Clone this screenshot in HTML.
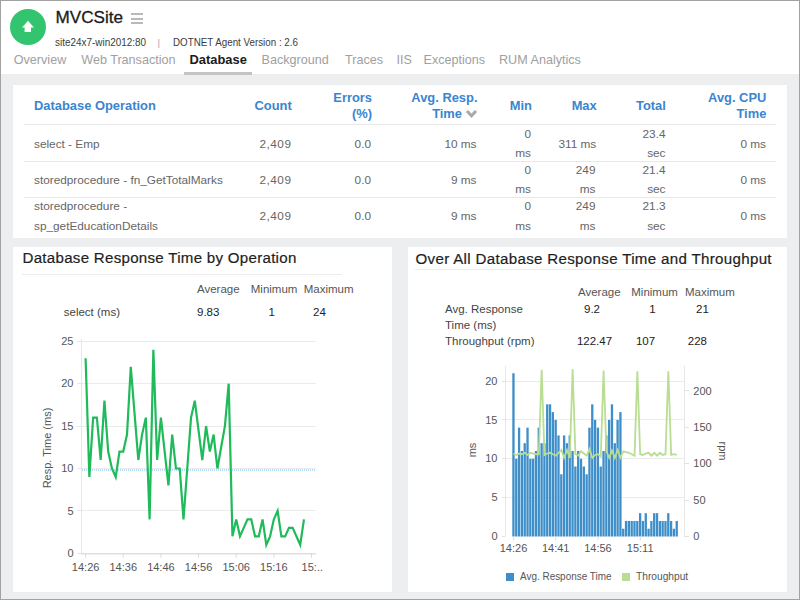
<!DOCTYPE html>
<html><head><meta charset="utf-8"><style>
html,body{margin:0;padding:0;width:800px;height:600px;overflow:hidden;background:#edeef0;}
body{position:relative;font-family:"Liberation Sans", sans-serif;}
.t{position:absolute;white-space:nowrap;}
.r{position:absolute;}
</style></head><body>
<div class="r" style="left:0px;top:0px;width:800px;height:600px;background:#a2a2a2;"></div><div class="r" style="left:1px;top:1px;width:798px;height:598px;background:#edeef0;"></div><div class="r" style="left:1px;top:1px;width:798px;height:73px;background:#ffffff;"></div><svg class="r" style="left:10px;top:9px" width="36" height="36" viewBox="0 0 36 36">
<circle cx="18" cy="18" r="18" fill="#33c46f"/>
<path d="M18 11.8 L23.9 18.4 L21 18.4 L21 23 L14.6 23 L14.6 18.4 L12.1 18.4 Z" fill="#fff"/>
</svg><div class="t" style="top:9.46px;font-size:17.1px;line-height:17.1px;color:#1b1b1b;font-weight:normal;-webkit-text-stroke:0.3px #1b1b1b;left:55.50px;">MVCSite</div><div class="r" style="left:130.5px;top:13.25px;width:12.5px;height:2px;background:#b9b9b9;"></div><div class="r" style="left:130.5px;top:17.75px;width:12.5px;height:2px;background:#b9b9b9;"></div><div class="r" style="left:130.5px;top:22.25px;width:12.5px;height:2px;background:#b9b9b9;"></div><div class="t" style="top:37.48px;font-size:10.5px;line-height:10.5px;color:#3c3c3c;font-weight:normal;transform:scaleX(0.945);transform-origin:0 0;left:55.00px;">site24x7-win2012:80</div><div class="t" style="top:38.07px;font-size:9.8px;line-height:9.8px;color:#aaa;font-weight:normal;left:157.50px;">|</div><div class="t" style="top:37.48px;font-size:10.5px;line-height:10.5px;color:#3c3c3c;font-weight:normal;transform:scaleX(0.932);transform-origin:0 0;left:172.50px;">DOTNET Agent Version : 2.6</div><div class="t" style="top:53.79px;font-size:12.6px;line-height:12.6px;color:#a0a0a0;font-weight:normal;left:13.75px;">Overview</div><div class="t" style="top:53.79px;font-size:12.6px;line-height:12.6px;color:#a0a0a0;font-weight:normal;left:81.25px;">Web Transaction</div><div class="t" style="top:53.53px;font-size:12.9px;line-height:12.9px;color:#1a1a1a;font-weight:bold;left:189.50px;">Database</div><div class="t" style="top:53.79px;font-size:12.6px;line-height:12.6px;color:#a0a0a0;font-weight:normal;left:261.50px;">Background</div><div class="t" style="top:53.79px;font-size:12.6px;line-height:12.6px;color:#a0a0a0;font-weight:normal;left:345.00px;">Traces</div><div class="t" style="top:53.79px;font-size:12.6px;line-height:12.6px;color:#a0a0a0;font-weight:normal;left:396.50px;">IIS</div><div class="t" style="top:53.79px;font-size:12.6px;line-height:12.6px;color:#a0a0a0;font-weight:normal;left:423.50px;">Exceptions</div><div class="t" style="top:53.79px;font-size:12.6px;line-height:12.6px;color:#a0a0a0;font-weight:normal;left:499.00px;">RUM Analytics</div><div class="r" style="left:184px;top:72px;width:68px;height:3px;background:#c4c4c4;"></div><div class="r" style="left:13px;top:85px;width:774px;height:152.5px;background:#fff;"></div><div class="t" style="top:100.03px;font-size:12.9px;line-height:12.9px;color:#3a85cf;font-weight:bold;left:34.00px;">Database Operation</div><div class="t" style="top:100.03px;font-size:12.9px;line-height:12.9px;color:#3a85cf;font-weight:bold;right:508.30px;text-align:right;">Count</div><div class="t" style="top:92.03px;font-size:12.9px;line-height:12.9px;color:#3a85cf;font-weight:bold;right:428.00px;text-align:right;">Errors</div><div class="t" style="top:108.03px;font-size:12.9px;line-height:12.9px;color:#3a85cf;font-weight:bold;right:428.00px;text-align:right;">(%)</div><div class="t" style="top:92.03px;font-size:12.9px;line-height:12.9px;color:#3a85cf;font-weight:bold;right:322.50px;text-align:right;">Avg. Resp.</div><div class="t" style="top:108.03px;font-size:12.9px;line-height:12.9px;color:#3a85cf;font-weight:bold;right:338.00px;text-align:right;">Time</div><svg class="r" style="left:465px;top:108.5px" width="13" height="10" viewBox="0 0 13 10"><path d="M2 2 L6.5 6.8 L11 2" stroke="#a9a9a9" stroke-width="3" fill="none"/></svg><div class="t" style="top:100.03px;font-size:12.9px;line-height:12.9px;color:#3a85cf;font-weight:bold;right:268.00px;text-align:right;">Min</div><div class="t" style="top:100.03px;font-size:12.9px;line-height:12.9px;color:#3a85cf;font-weight:bold;right:203.30px;text-align:right;">Max</div><div class="t" style="top:100.03px;font-size:12.9px;line-height:12.9px;color:#3a85cf;font-weight:bold;right:134.20px;text-align:right;">Total</div><div class="t" style="top:92.03px;font-size:12.9px;line-height:12.9px;color:#3a85cf;font-weight:bold;right:33.70px;text-align:right;">Avg. CPU</div><div class="t" style="top:108.03px;font-size:12.9px;line-height:12.9px;color:#3a85cf;font-weight:bold;right:33.70px;text-align:right;">Time</div><div class="r" style="left:24px;top:124px;width:752px;height:1px;background:#e8e8e8;"></div><div class="r" style="left:24px;top:161px;width:752px;height:1px;background:#e8e8e8;"></div><div class="r" style="left:24px;top:197px;width:752px;height:1px;background:#e8e8e8;"></div><div class="t" style="top:138.97px;font-size:11.8px;line-height:11.8px;color:#666;font-weight:normal;left:34.00px;">select - Emp</div><div class="t" style="top:138.97px;font-size:11.8px;line-height:11.8px;color:#666;font-weight:normal;letter-spacing:0.5px;right:508.50px;text-align:right;">2,409</div><div class="t" style="top:138.97px;font-size:11.8px;line-height:11.8px;color:#666;font-weight:normal;right:429.00px;text-align:right;">0.0</div><div class="t" style="top:138.97px;font-size:11.8px;line-height:11.8px;color:#666;font-weight:normal;right:323.50px;text-align:right;">10 ms</div><div class="t" style="top:128.97px;font-size:11.8px;line-height:11.8px;color:#666;font-weight:normal;right:269.00px;text-align:right;">0</div><div class="t" style="top:147.97px;font-size:11.8px;line-height:11.8px;color:#666;font-weight:normal;right:269.00px;text-align:right;">ms</div><div class="t" style="top:138.97px;font-size:11.8px;line-height:11.8px;color:#666;font-weight:normal;right:203.80px;text-align:right;">311 ms</div><div class="t" style="top:128.97px;font-size:11.8px;line-height:11.8px;color:#666;font-weight:normal;right:134.50px;text-align:right;">23.4</div><div class="t" style="top:147.97px;font-size:11.8px;line-height:11.8px;color:#666;font-weight:normal;right:134.50px;text-align:right;">sec</div><div class="t" style="top:138.97px;font-size:11.8px;line-height:11.8px;color:#666;font-weight:normal;right:34.00px;text-align:right;">0 ms</div><div class="t" style="top:174.97px;font-size:11.8px;line-height:11.8px;color:#666;font-weight:normal;left:34.00px;">storedprocedure - fn_GetTotalMarks</div><div class="t" style="top:174.97px;font-size:11.8px;line-height:11.8px;color:#666;font-weight:normal;letter-spacing:0.5px;right:508.50px;text-align:right;">2,409</div><div class="t" style="top:174.97px;font-size:11.8px;line-height:11.8px;color:#666;font-weight:normal;right:429.00px;text-align:right;">0.0</div><div class="t" style="top:174.97px;font-size:11.8px;line-height:11.8px;color:#666;font-weight:normal;right:323.50px;text-align:right;">9 ms</div><div class="t" style="top:165.47px;font-size:11.8px;line-height:11.8px;color:#666;font-weight:normal;right:269.00px;text-align:right;">0</div><div class="t" style="top:183.97px;font-size:11.8px;line-height:11.8px;color:#666;font-weight:normal;right:269.00px;text-align:right;">ms</div><div class="t" style="top:165.47px;font-size:11.8px;line-height:11.8px;color:#666;font-weight:normal;right:204.50px;text-align:right;">249</div><div class="t" style="top:183.97px;font-size:11.8px;line-height:11.8px;color:#666;font-weight:normal;right:204.50px;text-align:right;">ms</div><div class="t" style="top:165.47px;font-size:11.8px;line-height:11.8px;color:#666;font-weight:normal;right:134.50px;text-align:right;">21.4</div><div class="t" style="top:183.97px;font-size:11.8px;line-height:11.8px;color:#666;font-weight:normal;right:134.50px;text-align:right;">sec</div><div class="t" style="top:174.97px;font-size:11.8px;line-height:11.8px;color:#666;font-weight:normal;right:34.00px;text-align:right;">0 ms</div><div class="t" style="top:200.97px;font-size:11.8px;line-height:11.8px;color:#666;font-weight:normal;left:34.00px;">storedprocedure -</div><div class="t" style="top:221.27px;font-size:11.8px;line-height:11.8px;color:#666;font-weight:normal;left:34.00px;">sp_getEducationDetails</div><div class="t" style="top:210.97px;font-size:11.8px;line-height:11.8px;color:#666;font-weight:normal;letter-spacing:0.5px;right:508.50px;text-align:right;">2,409</div><div class="t" style="top:210.97px;font-size:11.8px;line-height:11.8px;color:#666;font-weight:normal;right:429.00px;text-align:right;">0.0</div><div class="t" style="top:210.97px;font-size:11.8px;line-height:11.8px;color:#666;font-weight:normal;right:323.50px;text-align:right;">9 ms</div><div class="t" style="top:200.97px;font-size:11.8px;line-height:11.8px;color:#666;font-weight:normal;right:269.00px;text-align:right;">0</div><div class="t" style="top:221.27px;font-size:11.8px;line-height:11.8px;color:#666;font-weight:normal;right:269.00px;text-align:right;">ms</div><div class="t" style="top:200.97px;font-size:11.8px;line-height:11.8px;color:#666;font-weight:normal;right:204.50px;text-align:right;">249</div><div class="t" style="top:221.27px;font-size:11.8px;line-height:11.8px;color:#666;font-weight:normal;right:204.50px;text-align:right;">ms</div><div class="t" style="top:200.97px;font-size:11.8px;line-height:11.8px;color:#666;font-weight:normal;right:134.50px;text-align:right;">21.3</div><div class="t" style="top:221.27px;font-size:11.8px;line-height:11.8px;color:#666;font-weight:normal;right:134.50px;text-align:right;">sec</div><div class="t" style="top:210.97px;font-size:11.8px;line-height:11.8px;color:#666;font-weight:normal;right:34.00px;text-align:right;">0 ms</div><div class="r" style="left:13px;top:247px;width:379px;height:345px;background:#fff;"></div><div class="t" style="top:250.47px;font-size:15.1px;line-height:15.1px;color:#1e1e1e;font-weight:normal;letter-spacing:0.28px;-webkit-text-stroke:0.2px #1e1e1e;left:22.50px;">Database Response Time by Operation</div><div class="r" style="left:22px;top:273.5px;width:320px;height:1px;background:#ececec;"></div><div class="t" style="top:284.23px;font-size:11.5px;line-height:11.5px;color:#555;font-weight:normal;left:197.00px;">Average</div><div class="t" style="top:284.23px;font-size:11.5px;line-height:11.5px;color:#555;font-weight:normal;left:250.75px;">Minimum</div><div class="t" style="top:284.23px;font-size:11.5px;line-height:11.5px;color:#555;font-weight:normal;left:303.75px;">Maximum</div><div class="t" style="top:307.23px;font-size:11.5px;line-height:11.5px;color:#444;font-weight:normal;left:63.75px;">select (ms)</div><div class="t" style="top:307.23px;font-size:11.5px;line-height:11.5px;color:#222;font-weight:normal;left:197.00px;">9.83</div><div class="t" style="top:307.23px;font-size:11.5px;line-height:11.5px;color:#222;font-weight:normal;left:121.60px;width:300px;text-align:center;">1</div><div class="t" style="top:307.23px;font-size:11.5px;line-height:11.5px;color:#222;font-weight:normal;left:169.50px;width:300px;text-align:center;">24</div><svg class="r" style="left:0;top:0" width="800" height="600"><line x1="77.5" y1="553.5" x2="81" y2="553.5" stroke="#e4e4e4" stroke-width="1"/><line x1="81" y1="510.5" x2="316" y2="510.5" stroke="#ebebeb" stroke-width="1"/><line x1="77.5" y1="510.5" x2="81" y2="510.5" stroke="#e4e4e4" stroke-width="1"/><line x1="81" y1="468.5" x2="316" y2="468.5" stroke="#ebebeb" stroke-width="1"/><line x1="77.5" y1="468.5" x2="81" y2="468.5" stroke="#e4e4e4" stroke-width="1"/><line x1="81" y1="426.5" x2="316" y2="426.5" stroke="#ebebeb" stroke-width="1"/><line x1="77.5" y1="426.5" x2="81" y2="426.5" stroke="#e4e4e4" stroke-width="1"/><line x1="81" y1="383.5" x2="316" y2="383.5" stroke="#ebebeb" stroke-width="1"/><line x1="77.5" y1="383.5" x2="81" y2="383.5" stroke="#e4e4e4" stroke-width="1"/><line x1="81" y1="341.5" x2="316" y2="341.5" stroke="#ebebeb" stroke-width="1"/><line x1="77.5" y1="341.5" x2="81" y2="341.5" stroke="#e4e4e4" stroke-width="1"/><line x1="81.5" y1="339" x2="81.5" y2="553.3" stroke="#e6e6e6" stroke-width="1"/><line x1="81" y1="553.8" x2="316" y2="553.8" stroke="#e0e0e0" stroke-width="1.6"/><line x1="85.6" y1="553.3" x2="85.6" y2="557.8" stroke="#dcdcdc" stroke-width="1"/><line x1="123.2" y1="553.3" x2="123.2" y2="557.8" stroke="#dcdcdc" stroke-width="1"/><line x1="160.9" y1="553.3" x2="160.9" y2="557.8" stroke="#dcdcdc" stroke-width="1"/><line x1="198.5" y1="553.3" x2="198.5" y2="557.8" stroke="#dcdcdc" stroke-width="1"/><line x1="236.2" y1="553.3" x2="236.2" y2="557.8" stroke="#dcdcdc" stroke-width="1"/><line x1="273.9" y1="553.3" x2="273.9" y2="557.8" stroke="#dcdcdc" stroke-width="1"/><line x1="311.5" y1="553.3" x2="311.5" y2="557.8" stroke="#dcdcdc" stroke-width="1"/><line x1="82" y1="470" x2="316" y2="470" stroke="#b3ddf6" stroke-width="2" stroke-dasharray="1,1"/><polyline points="85.60,358.26 89.36,476.98 93.13,417.62 96.89,417.62 100.66,460.02 104.42,400.66 108.19,451.54 111.95,468.50 115.72,476.98 119.48,451.54 123.25,451.54 127.01,434.58 130.78,366.74 134.54,413.38 138.31,460.02 142.07,434.58 145.84,417.62 149.60,519.38 153.37,349.78 157.13,460.02 160.90,417.62 164.66,451.54 168.43,485.46 172.19,434.58 175.96,468.50 179.72,468.50 183.49,519.38 187.25,468.50 191.02,417.62 194.78,400.66 198.55,430.34 202.31,460.02 206.08,426.10 209.84,451.54 213.61,434.58 217.38,468.50 221.14,447.30 224.91,426.10 228.67,383.70 232.44,536.34 236.20,519.38 239.97,536.34 243.73,527.86 247.50,519.38 251.26,519.38 255.03,536.34 258.79,536.34 262.56,519.38 266.32,544.82 270.09,536.34 273.85,519.38 277.62,510.90 281.38,536.34 285.14,536.34 288.91,527.86 292.68,527.86 296.44,536.34 300.21,544.82 303.97,519.38" fill="none" stroke="#1fba5a" stroke-width="2.2" stroke-linejoin="miter"/></svg><div class="t" style="top:547.95px;font-size:11px;line-height:11px;color:#555;font-weight:normal;right:726.50px;text-align:right;">0</div><div class="t" style="top:505.55px;font-size:11px;line-height:11px;color:#555;font-weight:normal;right:726.50px;text-align:right;">5</div><div class="t" style="top:463.15px;font-size:11px;line-height:11px;color:#555;font-weight:normal;right:726.50px;text-align:right;">10</div><div class="t" style="top:420.75px;font-size:11px;line-height:11px;color:#555;font-weight:normal;right:726.50px;text-align:right;">15</div><div class="t" style="top:378.35px;font-size:11px;line-height:11px;color:#555;font-weight:normal;right:726.50px;text-align:right;">20</div><div class="t" style="top:335.95px;font-size:11px;line-height:11px;color:#555;font-weight:normal;right:726.50px;text-align:right;">25</div><div class="t" style="top:561.95px;font-size:11px;line-height:11px;color:#555;font-weight:normal;left:-64.40px;width:300px;text-align:center;">14:26</div><div class="t" style="top:561.95px;font-size:11px;line-height:11px;color:#555;font-weight:normal;left:-26.75px;width:300px;text-align:center;">14:36</div><div class="t" style="top:561.95px;font-size:11px;line-height:11px;color:#555;font-weight:normal;left:10.90px;width:300px;text-align:center;">14:46</div><div class="t" style="top:561.95px;font-size:11px;line-height:11px;color:#555;font-weight:normal;left:48.55px;width:300px;text-align:center;">14:56</div><div class="t" style="top:561.95px;font-size:11px;line-height:11px;color:#555;font-weight:normal;left:86.20px;width:300px;text-align:center;">15:06</div><div class="t" style="top:561.95px;font-size:11px;line-height:11px;color:#555;font-weight:normal;left:123.85px;width:300px;text-align:center;">15:16</div><div class="t" style="top:561.95px;font-size:11px;line-height:11px;color:#555;font-weight:normal;left:301.60px;">15:..</div><div class="t" style="left:-13.5px;top:440px;width:120px;height:16px;line-height:16px;font-size:11px;color:#555;text-align:center;transform:rotate(-90deg);">Resp. Time (ms)</div><div class="r" style="left:408px;top:247px;width:379px;height:345px;background:#fff;"></div><div class="t" style="top:250.97px;font-size:15.1px;line-height:15.1px;color:#1e1e1e;font-weight:normal;letter-spacing:0.33px;-webkit-text-stroke:0.2px #1e1e1e;left:415.50px;">Over All Database Response Time and Throughput</div><div class="r" style="left:415px;top:269px;width:310px;height:1px;background:#ececec;"></div><div class="t" style="top:287.23px;font-size:11.5px;line-height:11.5px;color:#555;font-weight:normal;left:578.00px;">Average</div><div class="t" style="top:287.23px;font-size:11.5px;line-height:11.5px;color:#555;font-weight:normal;left:631.25px;">Minimum</div><div class="t" style="top:287.23px;font-size:11.5px;line-height:11.5px;color:#555;font-weight:normal;left:685.00px;">Maximum</div><div class="t" style="top:303.73px;font-size:11.5px;line-height:11.5px;color:#444;font-weight:normal;left:445.00px;">Avg. Response</div><div class="t" style="top:319.98px;font-size:11.5px;line-height:11.5px;color:#444;font-weight:normal;left:445.00px;">Time (ms)</div><div class="t" style="top:335.73px;font-size:11.5px;line-height:11.5px;color:#444;font-weight:normal;left:445.00px;">Throughput (rpm)</div><div class="t" style="top:303.73px;font-size:11.5px;line-height:11.5px;color:#222;font-weight:normal;left:442.00px;width:300px;text-align:center;">9.2</div><div class="t" style="top:303.73px;font-size:11.5px;line-height:11.5px;color:#222;font-weight:normal;left:502.50px;width:300px;text-align:center;">1</div><div class="t" style="top:303.73px;font-size:11.5px;line-height:11.5px;color:#222;font-weight:normal;left:552.40px;width:300px;text-align:center;">21</div><div class="t" style="top:335.73px;font-size:11.5px;line-height:11.5px;color:#222;font-weight:normal;left:444.50px;width:300px;text-align:center;">122.47</div><div class="t" style="top:335.73px;font-size:11.5px;line-height:11.5px;color:#222;font-weight:normal;left:495.50px;width:300px;text-align:center;">107</div><div class="t" style="top:335.73px;font-size:11.5px;line-height:11.5px;color:#222;font-weight:normal;left:547.40px;width:300px;text-align:center;">228</div><svg class="r" style="left:0;top:0" width="800" height="600"><line x1="502" y1="536.5" x2="505" y2="536.5" stroke="#e2e2e2" stroke-width="1"/><line x1="505" y1="497.5" x2="685" y2="497.5" stroke="#ebebeb" stroke-width="1"/><line x1="502" y1="497.5" x2="505" y2="497.5" stroke="#e2e2e2" stroke-width="1"/><line x1="505" y1="458.5" x2="685" y2="458.5" stroke="#ebebeb" stroke-width="1"/><line x1="502" y1="458.5" x2="505" y2="458.5" stroke="#e2e2e2" stroke-width="1"/><line x1="505" y1="419.5" x2="685" y2="419.5" stroke="#ebebeb" stroke-width="1"/><line x1="502" y1="419.5" x2="505" y2="419.5" stroke="#e2e2e2" stroke-width="1"/><line x1="505" y1="381.5" x2="685" y2="381.5" stroke="#ebebeb" stroke-width="1"/><line x1="502" y1="381.5" x2="505" y2="381.5" stroke="#e2e2e2" stroke-width="1"/><line x1="505.5" y1="366" x2="505.5" y2="536.5" stroke="#e6e6e6" stroke-width="1"/><line x1="684.5" y1="366" x2="684.5" y2="536.5" stroke="#e6e6e6" stroke-width="1"/><line x1="684.5" y1="536.5" x2="689" y2="536.5" stroke="#e2e2e2" stroke-width="1"/><line x1="684.5" y1="500.5" x2="689" y2="500.5" stroke="#e2e2e2" stroke-width="1"/><line x1="684.5" y1="463.5" x2="689" y2="463.5" stroke="#e2e2e2" stroke-width="1"/><line x1="684.5" y1="427.5" x2="689" y2="427.5" stroke="#e2e2e2" stroke-width="1"/><line x1="684.5" y1="390.5" x2="689" y2="390.5" stroke="#e2e2e2" stroke-width="1"/><rect x="512.30" y="373.23" width="2.3" height="163.28" fill="#3d8ec9"/><rect x="515.12" y="458.75" width="2.3" height="77.75" fill="#3d8ec9"/><rect x="517.93" y="427.65" width="2.3" height="108.85" fill="#3d8ec9"/><rect x="520.75" y="450.98" width="2.3" height="85.53" fill="#3d8ec9"/><rect x="523.56" y="443.20" width="2.3" height="93.30" fill="#3d8ec9"/><rect x="526.38" y="427.65" width="2.3" height="108.85" fill="#3d8ec9"/><rect x="529.19" y="458.75" width="2.3" height="77.75" fill="#3d8ec9"/><rect x="532.00" y="458.75" width="2.3" height="77.75" fill="#3d8ec9"/><rect x="534.82" y="450.98" width="2.3" height="85.53" fill="#3d8ec9"/><rect x="537.63" y="427.65" width="2.3" height="108.85" fill="#3d8ec9"/><rect x="540.45" y="443.20" width="2.3" height="93.30" fill="#3d8ec9"/><rect x="543.26" y="443.20" width="2.3" height="93.30" fill="#3d8ec9"/><rect x="546.08" y="404.32" width="2.3" height="132.18" fill="#3d8ec9"/><rect x="548.89" y="404.32" width="2.3" height="132.18" fill="#3d8ec9"/><rect x="551.71" y="412.10" width="2.3" height="124.40" fill="#3d8ec9"/><rect x="554.52" y="419.88" width="2.3" height="116.62" fill="#3d8ec9"/><rect x="557.34" y="435.43" width="2.3" height="101.08" fill="#3d8ec9"/><rect x="560.15" y="474.30" width="2.3" height="62.20" fill="#3d8ec9"/><rect x="562.97" y="435.43" width="2.3" height="101.08" fill="#3d8ec9"/><rect x="565.78" y="443.20" width="2.3" height="93.30" fill="#3d8ec9"/><rect x="568.60" y="435.43" width="2.3" height="101.08" fill="#3d8ec9"/><rect x="571.41" y="450.98" width="2.3" height="85.53" fill="#3d8ec9"/><rect x="574.23" y="466.52" width="2.3" height="69.98" fill="#3d8ec9"/><rect x="577.04" y="450.98" width="2.3" height="85.53" fill="#3d8ec9"/><rect x="579.86" y="458.75" width="2.3" height="77.75" fill="#3d8ec9"/><rect x="582.67" y="466.52" width="2.3" height="69.98" fill="#3d8ec9"/><rect x="585.49" y="474.30" width="2.3" height="62.20" fill="#3d8ec9"/><rect x="588.30" y="427.65" width="2.3" height="108.85" fill="#3d8ec9"/><rect x="591.12" y="404.32" width="2.3" height="132.18" fill="#3d8ec9"/><rect x="593.93" y="419.88" width="2.3" height="116.62" fill="#3d8ec9"/><rect x="596.75" y="427.65" width="2.3" height="108.85" fill="#3d8ec9"/><rect x="599.56" y="466.52" width="2.3" height="69.98" fill="#3d8ec9"/><rect x="602.38" y="450.98" width="2.3" height="85.53" fill="#3d8ec9"/><rect x="605.19" y="435.43" width="2.3" height="101.08" fill="#3d8ec9"/><rect x="608.01" y="419.88" width="2.3" height="116.62" fill="#3d8ec9"/><rect x="610.82" y="404.32" width="2.3" height="132.18" fill="#3d8ec9"/><rect x="613.64" y="443.20" width="2.3" height="93.30" fill="#3d8ec9"/><rect x="616.45" y="419.88" width="2.3" height="116.62" fill="#3d8ec9"/><rect x="619.27" y="412.10" width="2.3" height="124.40" fill="#3d8ec9"/><rect x="622.08" y="528.73" width="2.3" height="7.78" fill="#3d8ec9"/><rect x="624.90" y="520.95" width="2.3" height="15.55" fill="#3d8ec9"/><rect x="627.71" y="520.95" width="2.3" height="15.55" fill="#3d8ec9"/><rect x="630.53" y="520.95" width="2.3" height="15.55" fill="#3d8ec9"/><rect x="633.34" y="520.95" width="2.3" height="15.55" fill="#3d8ec9"/><rect x="636.16" y="520.95" width="2.3" height="15.55" fill="#3d8ec9"/><rect x="638.97" y="513.17" width="2.3" height="23.33" fill="#3d8ec9"/><rect x="641.79" y="520.95" width="2.3" height="15.55" fill="#3d8ec9"/><rect x="644.61" y="513.17" width="2.3" height="23.33" fill="#3d8ec9"/><rect x="647.42" y="528.73" width="2.3" height="7.78" fill="#3d8ec9"/><rect x="650.23" y="520.95" width="2.3" height="15.55" fill="#3d8ec9"/><rect x="653.05" y="513.17" width="2.3" height="23.33" fill="#3d8ec9"/><rect x="655.87" y="513.17" width="2.3" height="23.33" fill="#3d8ec9"/><rect x="658.68" y="520.95" width="2.3" height="15.55" fill="#3d8ec9"/><rect x="661.49" y="520.95" width="2.3" height="15.55" fill="#3d8ec9"/><rect x="664.31" y="520.95" width="2.3" height="15.55" fill="#3d8ec9"/><rect x="667.12" y="513.17" width="2.3" height="23.33" fill="#3d8ec9"/><rect x="669.94" y="520.95" width="2.3" height="15.55" fill="#3d8ec9"/><rect x="672.75" y="528.73" width="2.3" height="7.78" fill="#3d8ec9"/><rect x="675.57" y="520.95" width="2.3" height="15.55" fill="#3d8ec9"/><line x1="513.5" y1="536.5" x2="513.5" y2="540.5" stroke="#dedede" stroke-width="1"/><line x1="555.7" y1="536.5" x2="555.7" y2="540.5" stroke="#dedede" stroke-width="1"/><line x1="598.0" y1="536.5" x2="598.0" y2="540.5" stroke="#dedede" stroke-width="1"/><line x1="640.2" y1="536.5" x2="640.2" y2="540.5" stroke="#dedede" stroke-width="1"/><polyline points="513.50,453.51 516.32,454.96 519.13,453.51 521.95,454.24 524.76,452.78 527.58,454.96 530.39,452.78 533.21,453.51 536.02,454.24 538.84,454.24 541.65,369.79 544.47,454.96 547.28,453.51 550.10,452.78 552.91,454.24 555.73,455.69 558.54,452.78 561.36,449.87 564.17,457.88 566.99,449.87 569.80,457.88 572.62,369.06 575.43,454.24 578.25,455.69 581.06,451.32 583.88,453.51 586.69,455.69 589.50,449.14 592.32,457.88 595.13,454.96 597.95,454.24 600.76,456.42 603.58,370.52 606.39,451.32 609.21,457.88 612.02,450.60 614.84,457.88 617.65,449.87 620.47,457.88 623.28,451.32 626.10,452.05 628.91,452.78 631.73,454.24 634.54,455.69 637.36,371.24 640.17,454.24 642.99,454.96 645.81,453.51 648.62,452.78 651.43,455.69 654.25,452.78 657.07,455.69 659.88,452.78 662.69,454.96 665.51,454.24 668.33,371.24 671.14,454.96 673.95,454.24 676.77,454.96" fill="none" stroke="#b9dd92" stroke-width="1.8" stroke-linejoin="miter"/></svg><div class="t" style="top:531.15px;font-size:11px;line-height:11px;color:#555;font-weight:normal;right:302.50px;text-align:right;">0</div><div class="t" style="top:492.27px;font-size:11px;line-height:11px;color:#555;font-weight:normal;right:302.50px;text-align:right;">5</div><div class="t" style="top:453.40px;font-size:11px;line-height:11px;color:#555;font-weight:normal;right:302.50px;text-align:right;">10</div><div class="t" style="top:414.52px;font-size:11px;line-height:11px;color:#555;font-weight:normal;right:302.50px;text-align:right;">15</div><div class="t" style="top:375.65px;font-size:11px;line-height:11px;color:#555;font-weight:normal;right:302.50px;text-align:right;">20</div><div class="t" style="top:531.15px;font-size:11px;line-height:11px;color:#555;font-weight:normal;left:693.30px;">0</div><div class="t" style="top:494.75px;font-size:11px;line-height:11px;color:#555;font-weight:normal;left:693.30px;">50</div><div class="t" style="top:458.35px;font-size:11px;line-height:11px;color:#555;font-weight:normal;left:693.30px;">100</div><div class="t" style="top:421.95px;font-size:11px;line-height:11px;color:#555;font-weight:normal;left:693.30px;">150</div><div class="t" style="top:385.55px;font-size:11px;line-height:11px;color:#555;font-weight:normal;left:693.30px;">200</div><div class="t" style="top:543.15px;font-size:11px;line-height:11px;color:#555;font-weight:normal;left:363.50px;width:300px;text-align:center;">14:26</div><div class="t" style="top:543.15px;font-size:11px;line-height:11px;color:#555;font-weight:normal;left:405.73px;width:300px;text-align:center;">14:41</div><div class="t" style="top:543.15px;font-size:11px;line-height:11px;color:#555;font-weight:normal;left:447.95px;width:300px;text-align:center;">14:56</div><div class="t" style="top:543.15px;font-size:11px;line-height:11px;color:#555;font-weight:normal;left:490.17px;width:300px;text-align:center;">15:11</div><div class="t" style="left:442.3px;top:442px;width:60px;height:16px;line-height:16px;font-size:11px;color:#555;text-align:center;transform:rotate(-90deg);">ms</div><div class="t" style="left:693.2px;top:442.7px;width:60px;height:16px;line-height:16px;font-size:11px;color:#555;text-align:center;transform:rotate(90deg);">rpm</div><div class="r" style="left:506px;top:573px;width:8px;height:8px;background:#3d8ec9;"></div><div class="t" style="top:570.81px;font-size:11.4px;line-height:11.4px;color:#555;font-weight:normal;transform:scaleX(0.872);transform-origin:0 0;left:520.20px;">Avg. Response Time</div><div class="r" style="left:622px;top:573px;width:8px;height:8px;background:#b9dd92;"></div><div class="t" style="top:570.81px;font-size:11.4px;line-height:11.4px;color:#555;font-weight:normal;transform:scaleX(0.895);transform-origin:0 0;left:636.20px;">Throughput</div>
</body></html>
